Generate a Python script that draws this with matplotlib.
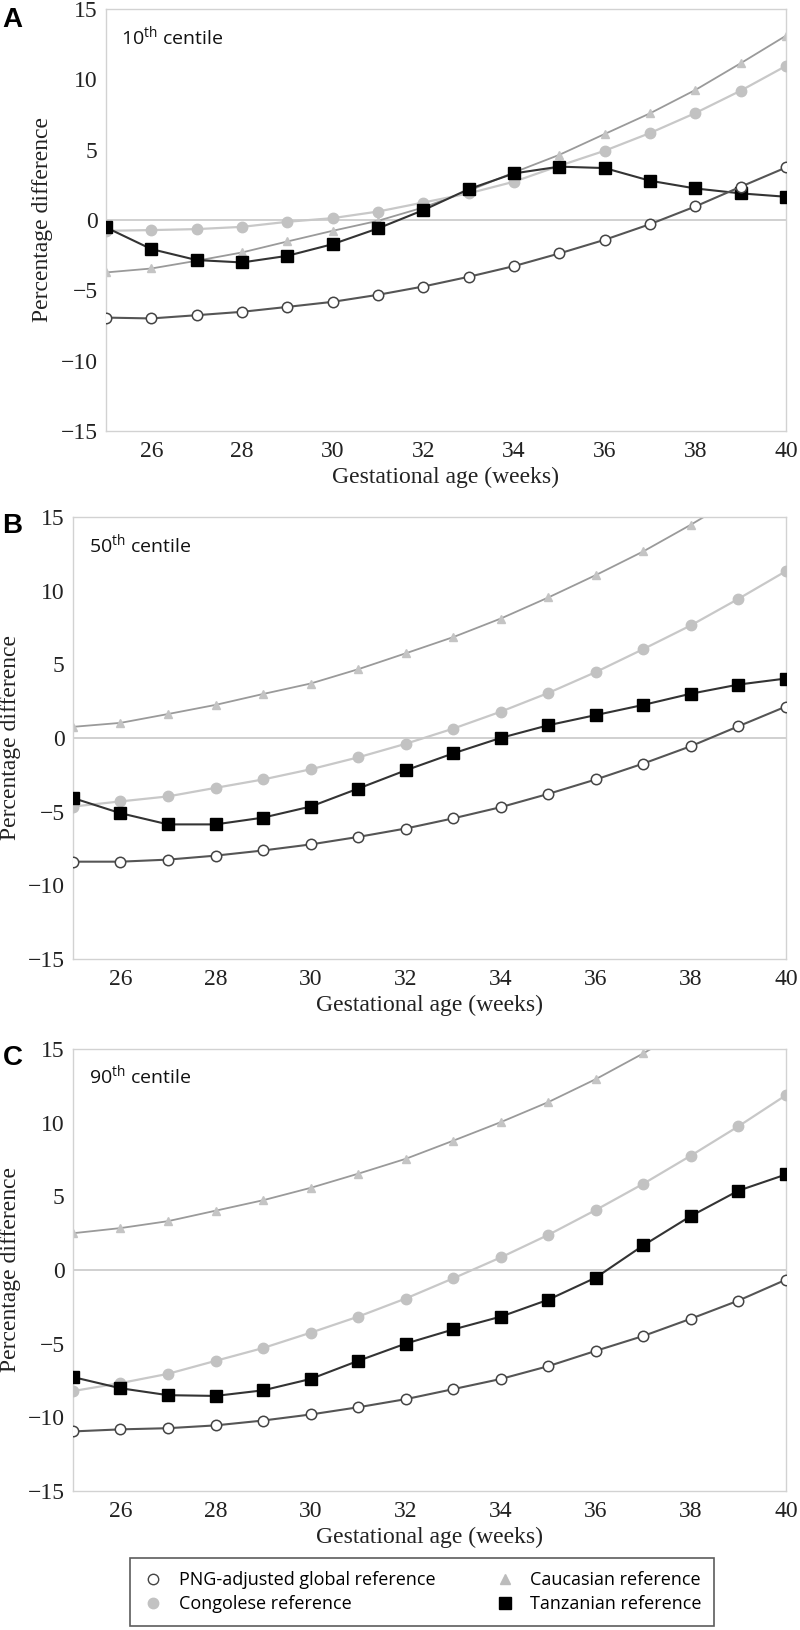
import matplotlib
matplotlib.use('Agg')
import matplotlib.pyplot as plt
from matplotlib.lines import Line2D

plt.rcParams['mathtext.fontset'] = 'custom'
plt.rcParams['mathtext.rm'] = 'Open Sans'

weeks = list(range(25, 41))

# 10th centile
png_10 = [-6.94, -7.0, -6.77, -6.53, -6.18, -5.82, -5.32, -4.73, -4.04, -3.28, -2.38, -1.41, -0.30, 0.96, 2.36, 3.73]
con_10 = [-0.77, -0.72, -0.65, -0.49, -0.13, 0.13, 0.60, 1.24, 1.89, 2.72, 3.85, 4.92, 6.18, 7.60, 9.19, 10.95]
cau_10 = [-3.73, -3.45, -2.90, -2.31, -1.53, -0.77, -0.06, 0.89, 2.07, 3.38, 4.63, 6.11, 7.58, 9.24, 11.14, 13.1]
tan_10 = [-0.53, -2.07, -2.85, -3.02, -2.55, -1.72, -0.60, 0.70, 2.19, 3.31, 3.79, 3.69, 2.79, 2.24, 1.89, 1.65]

# 50th centile
png_50 = [-8.40, -8.40, -8.26, -7.99, -7.64, -7.23, -6.72, -6.15, -5.46, -4.70, -3.80, -2.82, -1.74, -0.56, 0.79, 2.13]
con_50 = [-4.66, -4.31, -3.97, -3.39, -2.82, -2.13, -1.32, -0.40, 0.63, 1.78, 3.05, 4.47, 6.03, 7.64, 9.44, 11.32]
cau_50 = [0.75, 1.02, 1.62, 2.24, 2.98, 3.69, 4.66, 5.74, 6.84, 8.10, 9.53, 11.05, 12.66, 14.47, 16.4, 18.4]
tan_50 = [-4.08, -5.11, -5.87, -5.87, -5.41, -4.66, -3.44, -2.20, -1.05, 0.0, 0.86, 1.55, 2.24, 3.0, 3.62, 4.03]

# 90th centile
png_90 = [-10.96, -10.82, -10.74, -10.55, -10.22, -9.81, -9.32, -8.77, -8.09, -7.40, -6.53, -5.49, -4.48, -3.31, -2.08, -0.66]
con_90 = [-8.22, -7.68, -7.05, -6.17, -5.30, -4.26, -3.17, -1.94, -0.57, 0.85, 2.38, 4.07, 5.85, 7.76, 9.75, 11.86]
cau_90 = [2.49, 2.84, 3.31, 4.02, 4.73, 5.57, 6.53, 7.54, 8.77, 10.03, 11.39, 12.95, 14.7, 16.6, 18.6, 20.8]
tan_90 = [-7.27, -8.03, -8.50, -8.55, -8.17, -7.40, -6.17, -5.0, -4.04, -3.17, -2.02, -0.52, 1.67, 3.66, 5.38, 6.48]

panels = [
    ('A', '10', png_10, con_10, cau_10, tan_10),
    ('B', '50', png_50, con_50, cau_50, tan_50),
    ('C', '90', png_90, con_90, cau_90, tan_90),
]
legend_labels = ['PNG-adjusted global reference', 'Congolese reference',
                 'Caucasian reference', 'Tanzanian reference']

serif = 'Liberation Serif'
sans = 'Open Sans'

fig = plt.figure(figsize=(8, 16.3), dpi=100)

# axes rectangles in figure fractions (left, bottom, width, height)
rects = [
    [0.1325, 0.7356, 0.8500, 0.2589],
    [0.0912, 0.4117, 0.8913, 0.2712],
    [0.0912, 0.0853, 0.8913, 0.2712],
]
letter_y = [0.9957, 0.6853, 0.3589]
ylabel_x = [-0.093, -0.088, -0.088]
xlabel_y = [-0.109, -0.106, -0.106]
cent_y = [0.915, 0.919, 0.922]

for i, (letter, cent, png, con, cau, tan) in enumerate(panels):
    ax = fig.add_axes(rects[i])
    ax.axhline(0, color='#c8c8c8', lw=1.2, zorder=1)
    ax.plot(weeks, cau, color='#9a9a9a', lw=1.3, marker='^', ms=5.5,
            mfc='#c4c4c4', mec='#c4c4c4', zorder=2)
    ax.plot(weeks, con, color='#c8c8c8', lw=1.6, marker='o', ms=7.5,
            mfc='#c2c2c2', mec='#c2c2c2', zorder=3)
    ax.plot(weeks, tan, color='#333333', lw=1.5, marker='s', ms=8,
            mfc='black', mec='black', zorder=4)
    ax.plot(weeks, png, color='#555555', lw=1.5, marker='o', ms=7.5,
            mfc='white', mec='#444444', mew=1.1, zorder=5)
    ax.set_xlim(25, 40)
    ax.set_ylim(-15, 15)
    ax.set_xticks(range(26, 41, 2))
    ax.set_yticks(range(-15, 16, 5))
    ax.tick_params(length=0, labelsize=17, colors='#222222')
    ax.tick_params(axis='x', pad=7)
    ax.tick_params(axis='y', pad=6)
    for lab in ax.get_xticklabels() + ax.get_yticklabels():
        lab.set_fontfamily(serif)
    for sp in ax.spines.values():
        sp.set_color('#d2d2d2')
        sp.set_linewidth(1.0)
    ax.set_xlabel('Gestational age (weeks)', fontsize=17, family=serif,
                  color='#222222', va='center')
    ax.xaxis.set_label_coords(0.5, xlabel_y[i])
    ax.set_ylabel('Percentage difference', fontsize=17, family=serif,
                  color='#222222', va='center')
    ax.yaxis.set_label_coords(ylabel_x[i], 0.5)
    ax.text(0.022, cent_y[i], cent + r'$^{\mathrm{th}}$ centile',
            transform=ax.transAxes, fontsize=14, family=sans,
            va='baseline', ha='left', color='#111111')
    fig.text(0.003, letter_y[i], letter, fontsize=20, family='Liberation Sans',
             weight='bold', va='top', ha='left')

handles = [
    Line2D([], [], ls='none', marker='o', ms=7.5, mfc='white', mec='#444444'),
    Line2D([], [], ls='none', marker='o', ms=7.5, mfc='#c2c2c2', mec='#c2c2c2'),
    Line2D([], [], ls='none', marker='^', ms=7.5, mfc='#bcbcbc', mec='#bcbcbc'),
    Line2D([], [], ls='none', marker='s', ms=8, mfc='black', mec='black'),
]
leg = fig.legend(handles, legend_labels, ncol=2, loc='center', mode='expand',
                 bbox_to_anchor=(130 / 800, 0.0233, 584 / 800, 0),
                 frameon=True, fancybox=False, edgecolor='#333333',
                 prop={'family': sans, 'size': 13}, handlelength=1.2,
                 handletextpad=0.8, borderpad=0.7, labelspacing=0.35,
                 borderaxespad=0)
leg.get_frame().set_linewidth(1.2)

fig.savefig('out.png', dpi=100)
